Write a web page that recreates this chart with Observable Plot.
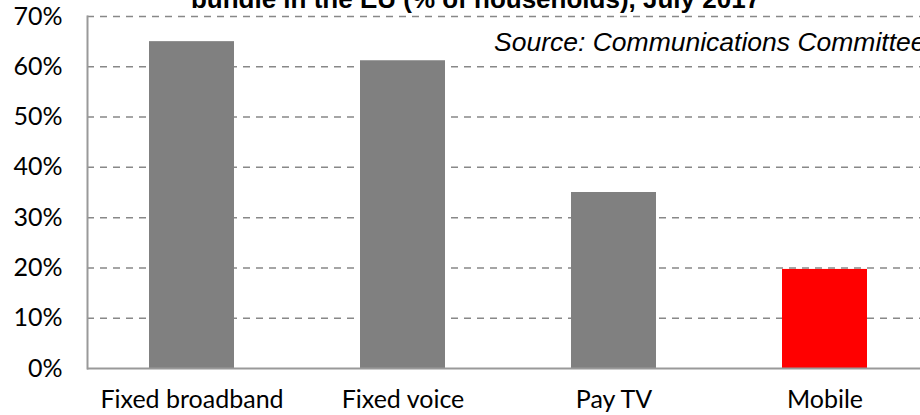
<!DOCTYPE html>
<html>
<head>
<meta charset="utf-8">
<script src="https://cdn.jsdelivr.net/npm/d3@7"></script>
<script src="https://cdn.jsdelivr.net/npm/@observablehq/plot@0.6"></script>
<style>
  html, body { margin: 0; padding: 0; background: #fff; overflow: hidden; }
  #chart svg { display: block; }
</style>
</head>
<body>
<div id="chart"></div>
<script>
const titleText = "bundle in the EU (% of households), July 2017";
const sourceText = "Source: Communications Committee";
const categories = ["Fixed broadband", "Fixed voice", "Pay TV", "Mobile"];
const shares = [0.65, 0.612, 0.35, 0.197];
const highlighted = "Mobile";
const yTicks = [0, 0.1, 0.2, 0.3, 0.4, 0.5, 0.6, 0.7];

const data = categories.map((c, i) => ({category: c, share: shares[i]}));

const calibriLike = "Lato, 'Open Sans', sans-serif";
const arialLike = "'Liberation Sans', Arial, sans-serif";

const chart = Plot.plot({
  width: 920,
  height: 415,
  marginLeft: 87,
  marginRight: 0,
  marginTop: 16,
  marginBottom: 47,
  style: {background: "#fff", overflow: "hidden"},
  x: {domain: categories, range: [86, 930], paddingInner: 0.597, paddingOuter: 0.2985, label: null},
  y: {domain: [0, 0.7], label: null},
  marks: [
    Plot.gridY(yTicks.filter(d => d > 0), {stroke: "#888", strokeOpacity: 1, strokeWidth: 1.5, strokeDasharray: "7,6"}),
    Plot.barY(data, {x: "category", y: "share", fill: d => d.category === highlighted ? "#ff0000" : "#808080"}),
    Plot.ruleY([0], {stroke: "#999", strokeWidth: 2}),
    Plot.frame({anchor: "left", stroke: "#999", strokeWidth: 2}),
    Plot.axisY({ticks: yTicks, tickSize: 0, tickPadding: 25, tickFormat: d3.format(".0%"), fontSize: 25, fontFamily: calibriLike, fill: "#000", label: null}),
    Plot.axisX({tickSize: 0, tickPadding: 22, fontSize: 25, fontFamily: calibriLike, fill: "#000", label: null}),
    Plot.text([titleText], {text: d => d, frameAnchor: "top", lineAnchor: "bottom", textAnchor: "middle", dy: -9, dx: -28.5, fontSize: 26, fontWeight: "bold", fontFamily: arialLike, fill: "#000"}),
    Plot.text([sourceText], {text: d => d, frameAnchor: "top", lineAnchor: "bottom", textAnchor: "start", dy: 34, dx: -10, fontSize: 26.5, fontStyle: "italic", fontFamily: arialLike, fill: "#000"})
  ]
});
document.getElementById("chart").append(chart);
</script>
</body>
</html>
